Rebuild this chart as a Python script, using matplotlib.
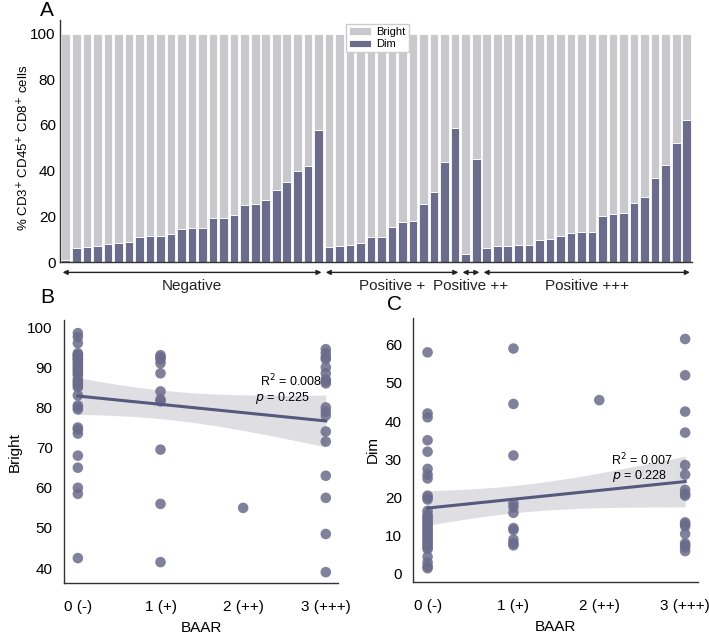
import numpy as np
import matplotlib
matplotlib.use("Agg")
import matplotlib.pyplot as plt

plt.rcParams['font.family'] = ['Liberation Sans', 'DejaVu Sans']

# Panel A: % Dim per patient, grouped by BAAR result (Bright = 100 - Dim)
dim_negative = [1, 6, 6.5, 7, 8, 8.5, 9, 11, 11.5, 11.5, 12.5, 14.5, 15, 15,
                19.5, 19.5, 20.5, 25, 25.5, 27, 31.5, 35, 40, 42, 58]
dim_pos1 = [6.5, 7, 7.5, 8.5, 11, 11, 15.5, 17.5, 18, 25.5, 30.5, 44, 58.5]
dim_pos2 = [3.5, 45]
dim_pos3 = [6, 7, 7.2, 7.7, 7.7, 9.5, 10, 11.5, 12.7, 13, 13.2, 20, 21, 21.5,
            26, 28.5, 37, 42.5, 52, 62]
group_names = ['Negative', 'Positive +', 'Positive ++', 'Positive +++']

# Panel B: Bright vs BAAR (dense clusters hold overlapping points)
bright_x = [0] * 34 + [1] * 11 + [2] + [3] * 18
bright_y = [98.5, 97.5, 96, 93.5, 93, 93, 92.5, 92, 92, 91.5, 91, 90.5, 90,
            89.5, 89, 88.5, 88, 87, 86.5, 86, 85.5, 85, 83, 80.5, 80, 79.5,
            75, 74.5, 73.5, 68, 65, 60, 58.5, 42.5,
            93, 92.5, 92, 91, 88.5, 84, 82, 81.5, 69.5, 56, 41.5,
            55,
            94.5, 93.5, 92.5, 92, 90, 88.5, 87, 86.5, 86, 80, 79, 78, 74, 71.5,
            63, 57.5, 48.5, 39]

# Panel C: Dim vs BAAR
dim_x = [0] * 35 + [1] * 11 + [2] + [3] * 17
dim_y = [58, 42, 41, 35, 32, 27.5, 26, 25, 20.5, 20, 19.5, 16.5, 15.5, 15,
         14.5, 14, 13.5, 13, 12.5, 12, 11.5, 11, 10.5, 10, 9.5, 9, 8.5, 8,
         7.5, 7, 6.5, 4.5, 3, 2, 1.5,
         59, 44.5, 31, 18.5, 17.5, 16, 12, 11.5, 9, 8, 7.5,
         45.5,
         61.5, 52, 42.5, 37, 28.5, 26, 22, 21, 20.5, 13.5, 13, 12.5, 10.5, 8,
         7.5, 7, 6]

baar_ticks = ['0 (-)', '1 (+)', '2 (++)', '3 (+++)']

dim_color = '#6b6b8b'
bright_color = '#c9c9cd'
line_color = '#58587e'
text_color = '#222222'

fig = plt.figure(figsize=(7.09, 6.38), dpi=100)

# ---------------- Panel A ----------------
axA = fig.add_axes([0.0846, 0.589, 0.8914, 0.38])
groups = [dim_negative, dim_pos1, dim_pos2, dim_pos3]
dim_all = np.concatenate([np.array(g, dtype=float) for g in groups])
bright_all = 100 - dim_all
xpos = np.arange(len(dim_all))
axA.bar(xpos, dim_all, width=0.82, color=dim_color, edgecolor='white',
        linewidth=0.6, label='Dim')
axA.bar(xpos, bright_all, bottom=dim_all, width=0.82, color=bright_color,
        edgecolor='white', linewidth=0.6, label='Bright')
axA.set_xlim(-0.55, len(dim_all) - 0.5)
axA.set_ylim(0, 106)
axA.set_yticks([0, 20, 40, 60, 80, 100])
axA.set_xticks([])
axA.tick_params(axis='y', length=0, labelsize=11, pad=3)
for s in ['top', 'right']:
    axA.spines[s].set_visible(False)
for s in ['left', 'bottom']:
    axA.spines[s].set_color('#333333')
    axA.spines[s].set_linewidth(1.0)
axA.set_ylabel('% CD3$^{+}$ CD45$^{+}$ CD8$^{+}$ cells', fontsize=9.5,
               labelpad=4)
axA.yaxis.set_label_coords(-0.045, 0.47)
h, l = axA.get_legend_handles_labels()
leg = axA.legend(h[::-1], l[::-1], loc='upper left',
                 bbox_to_anchor=(0.449, 0.99), fontsize=8, frameon=True,
                 fancybox=False, framealpha=1, edgecolor='#cccccc',
                 handlelength=2.0, handleheight=0.7, borderpad=0.25,
                 labelspacing=0.2, handletextpad=0.5, borderaxespad=0.2)

# group arrows under the bars
trans = axA.get_xaxis_transform()
start = 0
for name, g in zip(group_names, groups):
    end = start + len(g) - 1
    axA.annotate('', xy=(start - 0.3, -0.042), xytext=(end + 0.3, -0.042),
                 xycoords=trans, textcoords=trans,
                 arrowprops=dict(arrowstyle='<|-|>', color='#222222', lw=1.0,
                                 mutation_scale=7, shrinkA=0, shrinkB=0),
                 annotation_clip=False)
    axA.text((start + end) / 2, -0.1, name, transform=trans, ha='center',
             va='center', fontsize=11, color=text_color)
    start = end + 1

fig.text(0.066, 0.984, 'A', fontsize=15, ha='center', va='center')


def reg_panel(ax, x, y, ylim, yticks, ylabel, r2_txt, p_txt, r2_xy, p_xy):
    x = np.array(x, dtype=float)
    y = np.array(y, dtype=float)
    ax.scatter(x, y, s=58, color=dim_color, alpha=0.85, edgecolors='none',
               zorder=3)
    # OLS fit with analytic 95% confidence band
    n = len(x)
    slope, intercept = np.polyfit(x, y, 1)
    xs = np.linspace(x.min(), x.max(), 100)
    ys = intercept + slope * xs
    resid = y - (intercept + slope * x)
    s_err = np.sqrt(np.sum(resid ** 2) / (n - 2))
    sxx = np.sum((x - x.mean()) ** 2)
    se = s_err * np.sqrt(1 / n + (xs - x.mean()) ** 2 / sxx)
    ax.fill_between(xs, ys - 1.96 * se, ys + 1.96 * se, color='#d4d4da',
                    alpha=0.75, linewidth=0, zorder=2)
    ax.plot(xs, ys, color=line_color, lw=2.2, zorder=4)
    ax.set_xlim(-0.17, 3.15)
    ax.set_ylim(*ylim)
    ax.set_yticks(yticks)
    ax.set_xticks([0, 1, 2, 3])
    ax.set_xticklabels(baar_ticks)
    ax.tick_params(length=0, labelsize=11, pad=8)
    ax.tick_params(axis='x', pad=12)
    for s in ['top', 'right']:
        ax.spines[s].set_visible(False)
    for s in ['left', 'bottom']:
        ax.spines[s].set_color('#333333')
        ax.spines[s].set_linewidth(1.0)
    ax.set_xlabel('BAAR', fontsize=11, labelpad=5)
    ax.set_ylabel(ylabel, fontsize=11)
    ax.text(r2_xy[0], r2_xy[1], r2_txt, ha='right', va='center', fontsize=9,
            zorder=5)
    ax.text(p_xy[0], p_xy[1], p_txt, ha='right', va='center', fontsize=9,
            zorder=5)


# ---------------- Panel B ----------------
axB = fig.add_axes([0.090, 0.0862, 0.387, 0.4118])
reg_panel(axB, bright_x, bright_y, (36.3, 101.7), [40, 50, 60, 70, 80, 90, 100],
          'Bright', 'R$^2$ = 0.008', '$p$ = 0.225', (2.95, 86.6), (2.81, 82.4))
fig.text(0.066, 0.533, 'B', fontsize=15, ha='center', va='center')

# ---------------- Panel C ----------------
axC = fig.add_axes([0.5825, 0.0878, 0.402, 0.4138])
reg_panel(axC, dim_x, dim_y, (-2.1, 67), [0, 10, 20, 30, 40, 50, 60],
          'Dim', 'R$^2$ = 0.007', '$p$ = 0.228', (2.86, 29.8), (2.79, 25.7))
fig.text(0.556, 0.522, 'C', fontsize=15, ha='center', va='center')

fig.savefig('out.png', dpi=100)
